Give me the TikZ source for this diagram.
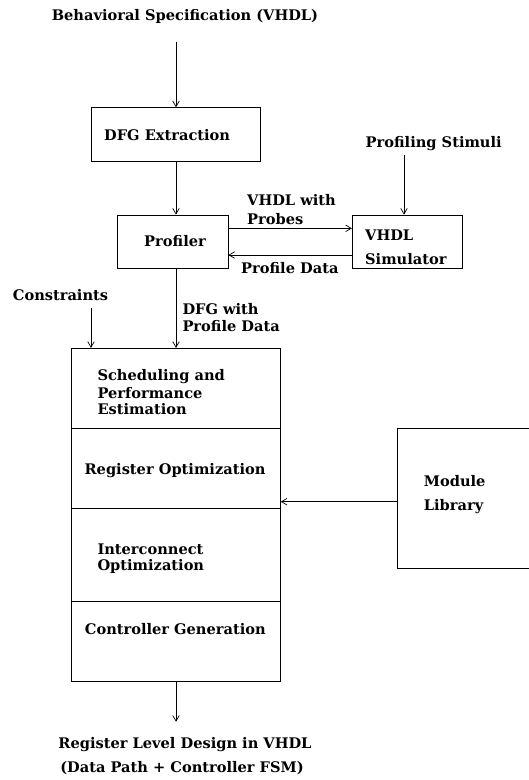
\documentclass[tikz,border=0pt]{standalone}
\usepackage{fontspec}
\setmainfont{DejaVu Serif}
\usetikzlibrary{arrows.meta}
\tikzset{
  box/.style={draw, line width=0.9pt, inner sep=0pt},
  lbl/.style={inner sep=0pt, text height=11.3pt, text depth=3.2pt, font=\fontsize{14.6}{18}\selectfont\bfseries},
  arr/.style={draw, line width=0.8pt, -{Straight Barb[length=5.5pt,width=6.5pt,line width=0.7pt]}},
}
\begin{document}
\begin{tikzpicture}[x=1pt,y=-1pt]
\useasboundingbox (0,0) rectangle (529,780);
\clip (0,0) rectangle (529,780);
% top input
\node[lbl] (title) at (185,16) {Behavioral Specification (VHDL)};
\coordinate (tin) at (176,41.7);
% DFG extraction
\node[box, minimum width=169.4pt, minimum height=53.6pt] (dfg) at (176,134.5) {};
\node[lbl, anchor=west] (dfgt) at (104,136) {DFG Extraction};
% profiler
\node[box, minimum width=111pt, minimum height=53.3pt] (prof) at (172.5,241.65) {};
\node[lbl] (proft) at (175,242.7) {Profiler};
% simulator
\node[box, minimum width=110.4pt, minimum height=53.3pt] (sim) at (407.5,241.65) {};
\node[lbl, anchor=west] (simt1) at (365,236.7) {VHDL};
\node[lbl, anchor=west] (simt2) at (365,260.7) {Simulator};
% stimuli
\node[lbl] (stim) at (433.7,143.3) {Profiling Stimuli};
\coordinate (stimend) at (404,155);
% labels between profiler and simulator
\node[lbl, anchor=west] (probe1) at (247,201.7) {VHDL with};
\node[lbl, anchor=west] (probe2) at (247,220.7) {Probes};
\node[lbl, anchor=west] (pdata) at (241,269.3) {Profile Data};
% constraints
\node[lbl] (cons) at (60.5,296.7) {Constraints};
\coordinate (consend) at (91,308.3);
\node[lbl, anchor=west] (dfgw1) at (182.3,310) {DFG with};
\node[lbl, anchor=west] (dfgw2) at (182.3,327.3) {Profile Data};
% big box sections
\node[box, minimum width=209pt, minimum height=80pt] (sec1) at (175.8,388.3) {};
\node[box, minimum width=209pt, minimum height=80pt] (sec2) at (175.8,468.3) {};
\node[box, minimum width=209pt, minimum height=93.4pt] (sec3) at (175.8,555) {};
\node[box, minimum width=209pt, minimum height=80pt] (sec4) at (175.8,641.7) {};
\node[lbl, anchor=west] (s1a) at (97.3,376.7) {Scheduling and};
\node[lbl, anchor=west] (s1b) at (97.3,394) {Performance};
\node[lbl, anchor=west] (s1c) at (97.3,410.7) {Estimation};
\node[lbl] (s2) at (175,470) {Register Optimization};
\node[lbl, anchor=west] (s3a) at (97.3,550) {Interconnect};
\node[lbl, anchor=west] (s3b) at (97.3,566.7) {Optimization};
\node[lbl] (s4) at (175.3,630) {Controller Generation};
% module library
\node[box, minimum width=134pt, minimum height=140pt] (mod) at (464.7,498.3) {};
\node[lbl, anchor=west] (modt1) at (423.7,482.7) {Module};
\node[lbl, anchor=west] (modt2) at (423.7,506.7) {Library};
% output
\coordinate (outend) at (176,721.7);
\node[lbl] (out1) at (185,744) {Register Level Design in VHDL};
\node[lbl] (out2) at (182,768.3) {(Data Path + Controller FSM)};
% connectors
\draw[arr] (tin) -- (tin |- dfg.north);
\draw[arr] (dfg.south -| tin) -- (tin |- prof.north);
\draw[arr] (stimend) -- (stimend |- sim.north);
\draw[arr] (prof.east |- 0,228.3) -- (sim.west |- 0,228.3);
\draw[arr] (sim.west |- 0,255) -- (prof.east |- 0,255);
\draw[arr] (tin |- prof.south) -- (tin |- sec1.north);
\draw[arr] (consend) -- (consend |- sec1.north);
\draw[arr] (mod.west |- 0,501.7) -- (sec2.east |- 0,501.7);
\draw[arr] (sec4.south -| outend) -- (outend);
\end{tikzpicture}
\end{document}
